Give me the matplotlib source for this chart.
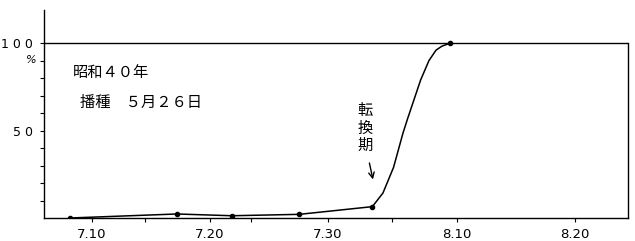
import matplotlib
matplotlib.use("Agg")
import matplotlib.pyplot as plt

plt.rcParams['font.family'] = ['Noto Sans CJK JP', 'DejaVu Sans']

# days counted from July 1 (7.31 -> 31, 8.10 -> 41)
obs_day = [8.1, 17.2, 21.9, 27.6, 33.8, 40.4]
obs_pct = [0.0, 2.3, 1.3, 2.1, 6.5, 100.0]

# smooth rise after the turning point
rise_day = [33.8, 34.7, 35.6, 36.4, 36.8, 37.3, 37.9, 38.6, 39.2, 39.7, 40.4]
rise_pct = [6.5, 14.3, 29.0, 48.6, 57.0, 67.0, 79.0, 90.0, 96.0, 98.3, 100.0]

xtick_pos = [10, 20, 30, 41, 51]
xtick_lab = ["7.10", "7.20", "7.30", "8.10", "8.20"]
xminor_pos = [14.5, 23.5, 35.5]

fig = plt.figure(figsize=(6.35, 2.41), dpi=100)
ax = fig.add_axes([0.0693, 0.0954, 0.9197, 0.8631])

ax.plot(obs_day[:5], obs_pct[:5], color='black', lw=1.1)
ax.plot(rise_day, rise_pct, color='black', lw=1.1)
ax.plot(obs_day, obs_pct, 'o', color='black', ms=3)

ax.set_xlim(5.93, 55.5)
ax.set_ylim(0, 119)

ax.axhline(100, color='black', lw=1.0)
ax.spines['top'].set_visible(False)
ax.spines['right'].set_bounds(0, 100)
for s in ['left', 'bottom', 'right']:
    ax.spines[s].set_linewidth(1.0)

ax.set_xticks(xtick_pos)
ax.set_xticklabels(xtick_lab, fontsize=9.5, family=['DejaVu Sans'])
ax.set_xticks(xminor_pos, minor=True)
ax.tick_params(axis='x', which='both', length=3, width=0.8, pad=4)

ax.set_yticks([50, 100])
ax.set_yticklabels(["5 0", "1 0 0"], fontsize=9, family=['DejaVu Sans'])
ax.set_yticks(list(range(10, 100, 10)), minor=True)
ax.tick_params(axis='y', which='both', length=3, width=0.8, pad=5)
ax.text(-0.012, 90.5, "%", transform=ax.get_yaxis_transform(), ha='right', va='center',
        fontsize=8, style='italic', family=['DejaVu Sans'])

ax.text(8.4, 83, "昭和４０年", fontsize=11, ha='left', va='center')
ax.text(9.0, 66, "播種　５月２６日", fontsize=11, ha='left', va='center')

ax.text(33.2, 51.5, "転\n換\n期", fontsize=11, ha='center', va='center', linespacing=1.05)
ax.annotate("", xy=(33.9, 20.5), xytext=(33.5, 33),
            arrowprops=dict(arrowstyle='->', color='black', lw=1.0))

fig.savefig("out.png", dpi=100)
